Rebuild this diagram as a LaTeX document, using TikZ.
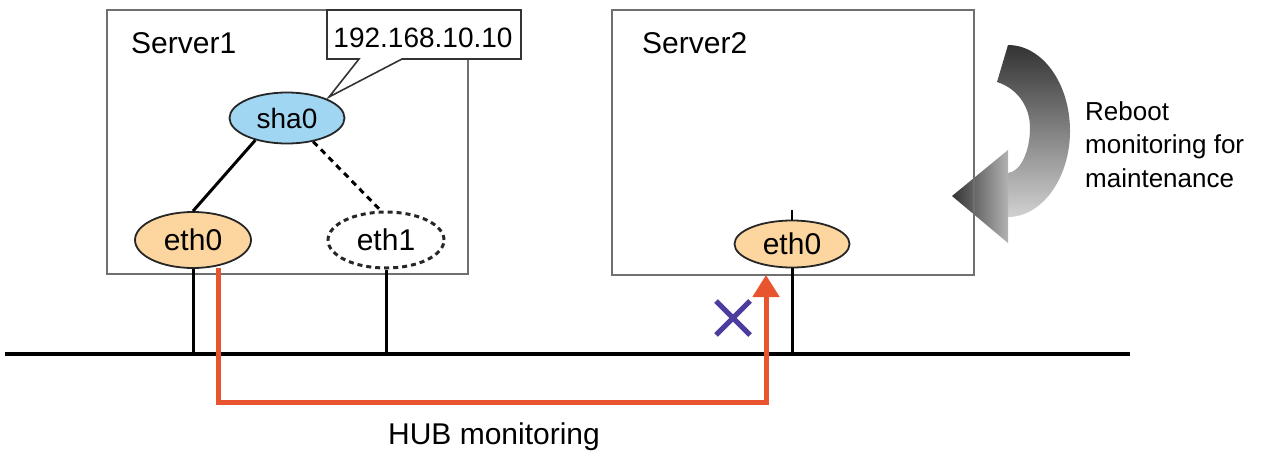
\documentclass[tikz,border=0pt]{standalone}
\usepackage{fontspec}
\setmainfont{Liberation Sans}
\usetikzlibrary{shapes.geometric,arrows.meta}
\definecolor{boxgray}{HTML}{707070}
\definecolor{shablue}{HTML}{A0D6F2}
\definecolor{ethorange}{HTML}{FCD69E}
\definecolor{hubred}{HTML}{E8542E}
\definecolor{xblue}{HTML}{4A3D9E}
\tikzset{
  server/.style={draw=boxgray,line width=2pt},
  nic/.style={ellipse,draw=black!85,line width=1.8pt,inner sep=0pt,minimum width=116pt,minimum height=56pt,font=\fontsize{30}{36}\selectfont},
  label30/.style={font=\fontsize{30}{36}\selectfont,inner sep=0pt},
  labelsm/.style={font=\fontsize{26}{32}\selectfont,inner sep=0pt},
  wire/.style={line width=3pt,black},
  bus/.style={line width=4.5pt,black},
  hub/.style={line width=5pt,hubred},
}
\begin{document}
\begin{tikzpicture}[x=1pt,y=-1pt]
\useasboundingbox (0,0) rectangle (1266,450);
% curved gradient arrow (behind server2 box edge)
\shade[top color=black!80,bottom color=black!18]
  (1008,45) .. controls (1042,45) and (1070,83) .. (1070,131)
  .. controls (1070,178) and (1042,217) .. (1008,217)
  -- (1008,173) .. controls (1020,172) and (1030,152) .. (1030,128)
  .. controls (1030,105) and (1016,88) .. (997,82) -- cycle;
\shade[left color=black!80,right color=black!30]
  (1008,150) -- (952,196) -- (1008,243) -- cycle;
% server boxes
\draw[server] (107,10) rectangle (468,274);
\draw[server] (612,10) rectangle (974,275);
% callout
\draw[draw=black!80,line width=1.6pt,fill=white]
  (327,10) -- (521,10) -- (521,59) -- (402,59) -- (329,97) -- (359,59) -- (327,59) -- cycle;
\node[label30,font=\fontsize{28}{34}\selectfont,anchor=base] (ip) at (423,47) {192.168.10.10};
% titles
\node[label30,anchor=base west] (s1) at (131,53) {Server1};
\node[label30,anchor=base west] (s2) at (642,53) {Server2};
% nics
\node[nic,fill=shablue,minimum width=115pt,minimum height=51pt,font=\fontsize{28}{34}\selectfont] (sha) at (287,118) {sha0};
\node[nic,fill=ethorange] (ea) at (193,240) {eth0};
\node[nic,fill=white,dash pattern=on 5pt off 4pt,line width=3pt] (eb) at (386,240) {eth1};
\node[nic,fill=ethorange,minimum width=115pt,minimum height=47pt] (ec) at (792,244) {eth0};
% logical links
\draw[wire] (sha.215) -- (ea.north);
\draw[wire,dash pattern=on 6pt off 5pt] (sha.-42) -- (eb.100);
% bus
\coordinate (busL) at (5,354);
\coordinate (busR) at (1130,354);
\draw[bus] (busL) -- (busR);
\draw[wire] (ea.south) -- (ea.south |- busL);
\draw[wire] (eb.south) -- (eb.south |- busL);
\draw[wire] (ec.south) -- (ec.south |- busL);
\coordinate (tick) at (792,210);
\draw[line width=1.5pt] (ec.north) -- (tick);
% HUB monitoring path
\coordinate (hs) at (218,268);
\coordinate (he) at (766,275);
\draw[hub,-{Triangle[width=26pt,length=22pt]}] (hs) -- (218,402) -| (he);
% blue cross
\coordinate (xc) at (733,318);
\draw[xblue,line width=5pt] ([shift={(-17,-17)}]xc) -- ([shift={(17,17)}]xc)
  ([shift={(-17,17)}]xc) -- ([shift={(17,-17)}]xc);
% labels
\node[label30,anchor=base] (hubl) at (494,444) {HUB monitoring};
\node[labelsm,anchor=base west] (r1) at (1085,120) {Reboot};
\node[labelsm,anchor=base west] (r2) at (1085,153) {monitoring for};
\node[labelsm,anchor=base west] (r3) at (1085,187) {maintenance};
\end{tikzpicture}
\end{document}
